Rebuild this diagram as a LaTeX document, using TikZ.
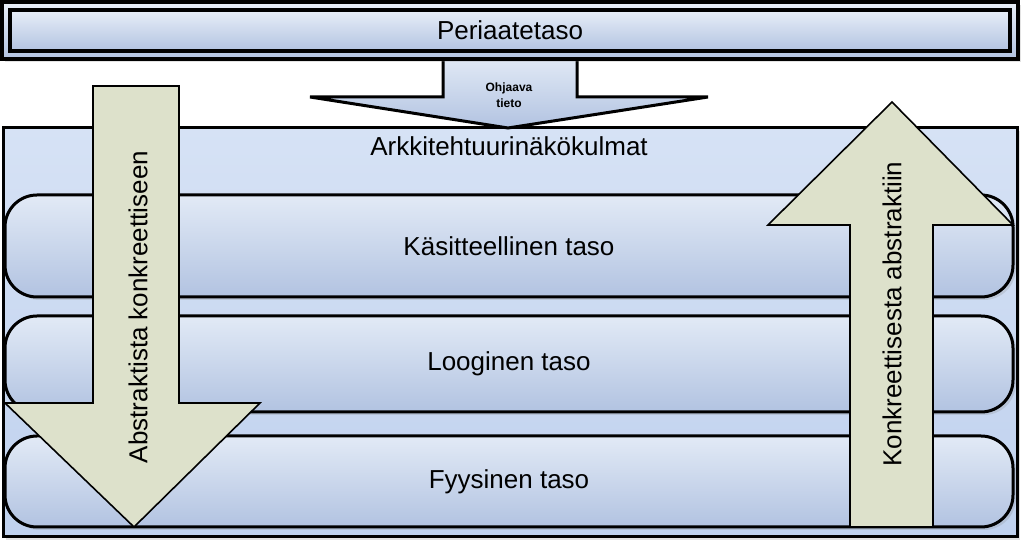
\documentclass[tikz,border=0pt]{standalone}
\usepackage{fontspec}
\setmainfont{Liberation Sans}
\usetikzlibrary{shadows}

\definecolor{tasoyla}{HTML}{E2EAF6}
\definecolor{tasoala}{HTML}{B2C3E1}
\definecolor{kehysyla}{HTML}{D6E2F5}
\definecolor{kehysala}{HTML}{BFD1EE}
\definecolor{nuoli}{HTML}{DDE1CB}

\begin{document}
\begin{tikzpicture}[x=0.5pt, y=-0.5pt,
  every node/.style={font=\fontsize{13}{15.6}\selectfont},
  varjo/.style={drop shadow={opacity=0.22, shadow xshift=1.5pt, shadow yshift=-1.5pt}},
  kehys/.style={draw, line width=1.5pt, top color=kehysyla, bottom color=kehysala, varjo},
  taso/.style={draw, line width=1.5pt, rounded corners=16pt, top color=tasoyla, bottom color=tasoala, minimum width=504pt, varjo},
  periaate/.style={draw, line width=1.6pt, top color=tasoyla!80!white, bottom color=tasoala},
  isonuoli/.style={draw, line width=0.8pt, fill=nuoli, line join=miter},
  ohjaus/.style={draw, line width=1.5pt, top color=tasoyla, bottom color=tasoala}]
  \useasboundingbox (0,0) rectangle (1024,544);

  % arkkitehtuurikehys ja tasot
  \node[kehys, minimum width=507pt, minimum height=204.5pt] (kehys) at (510,332.5) {};
  \node (arkki) at (509,146) {Arkkitehtuurinäkökulmat};
  \node[taso, minimum height=51pt] (kasite) at (509,246) {Käsitteellinen taso};
  \node[taso, minimum height=48pt] (loogi) at (509,364) {Looginen taso};
  \node[taso, minimum height=45.5pt] (fyysi) at (509,481.5) {Fyysinen taso};

  % ohjaava tieto
  \draw[ohjaus] (443,56) -- (443,97) -- (310,97) -- (508,128) -- (708,97) -- (577,97) -- (577,56);
  \node[font=\bfseries\fontsize{6}{8}\selectfont, align=center] (ohjaava) at (509,95) {Ohjaava\\tieto};

  % periaatetaso
  \node[periaate, varjo, minimum width=508pt, minimum height=28.5pt] (reuna) at (510,30.5) {};
  \node[periaate, minimum width=500pt, minimum height=20.5pt] (peria) at (510,30.5) {Periaatetaso};

  % suuntanuolet
  \draw[isonuoli] (93,86) -- (179,86) -- (179,403) -- (260,403) -- (134,527) -- (5,403) -- (93,403) -- cycle;
  \node[rotate=90] (alas) at (138,307) {Abstraktista konkreettiseen};
  \draw[isonuoli] (892,102) -- (1013,225) -- (933,225) -- (933,527) -- (850,527) -- (850,225) -- (768,225) -- cycle;
  \node[rotate=90] (ylos) at (892,314) {Konkreettisesta abstraktiin};
\end{tikzpicture}
\end{document}
